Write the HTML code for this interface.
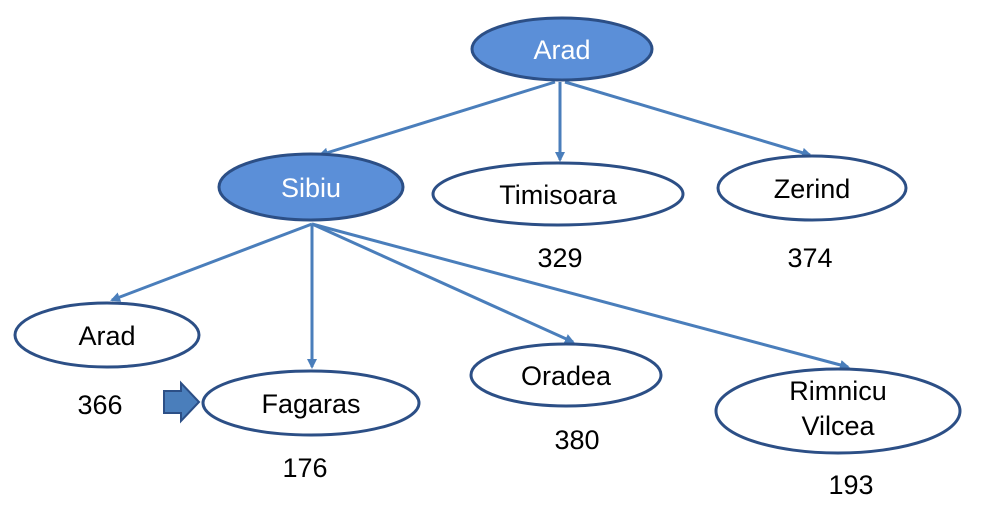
<!DOCTYPE html>
<html><head><meta charset="utf-8"><style>
html,body{margin:0;padding:0;background:#fff;}
svg{display:block;}
text{font-family:"Liberation Sans",Arial,sans-serif;font-size:27px;text-anchor:middle;}
</style></head><body>
<svg width="999" height="509" viewBox="0 0 999 509">
<defs>
<marker id="a" markerWidth="10" markerHeight="10" refX="8" refY="5" orient="auto" markerUnits="userSpaceOnUse">
<path d="M0,0 L10,5 L0,10 z" fill="#4a7ebb"/></marker>
</defs>
<g stroke="#4a7ebb" stroke-width="3" fill="none" marker-end="url(#a)">
<line x1="555" y1="82" x2="320" y2="155"/>
<line x1="560" y1="82" x2="560" y2="160"/>
<line x1="565" y1="82" x2="810" y2="155"/>
<line x1="312" y1="224" x2="112" y2="300"/>
<line x1="312" y1="224" x2="312" y2="367"/>
<line x1="312" y1="224" x2="573" y2="342"/>
<line x1="312" y1="224" x2="848" y2="367"/>
</g>
<g stroke="#2c4f86" stroke-width="3">
<ellipse cx="562" cy="49" rx="90" ry="31" fill="#5b8fd8"/>
<ellipse cx="311" cy="187" rx="92" ry="33" fill="#5b8fd8"/>
</g>
<g stroke="#2c4f86" stroke-width="3" fill="#fff">
<ellipse cx="558" cy="194" rx="125" ry="31"/>
<ellipse cx="812" cy="188" rx="94" ry="32"/>
<ellipse cx="107" cy="335" rx="92" ry="32"/>
<ellipse cx="311" cy="403" rx="108" ry="32"/>
<ellipse cx="566" cy="375" rx="95" ry="31"/>
<ellipse cx="838" cy="411" rx="122" ry="42"/>
</g>
<path d="M164,391 H181 V383 L199,402 L181,421 V413 H164 z" fill="#4a7ebb" stroke="#2c4f86" stroke-width="2"/>
<text x="562" y="59" fill="#fff">Arad</text>
<text x="311" y="197" fill="#fff">Sibiu</text>
<text x="558" y="204">Timisoara</text>
<text x="812" y="198">Zerind</text>
<text x="107" y="345">Arad</text>
<text x="311" y="413">Fagaras</text>
<text x="566" y="385">Oradea</text>
<text x="838" y="400">Rimnicu</text>
<text x="838" y="435">Vilcea</text>
<text x="560" y="267">329</text>
<text x="810" y="267">374</text>
<text x="100" y="414">366</text>
<text x="305" y="477">176</text>
<text x="577" y="449">380</text>
<text x="851" y="494">193</text>
</svg>
</body></html>
